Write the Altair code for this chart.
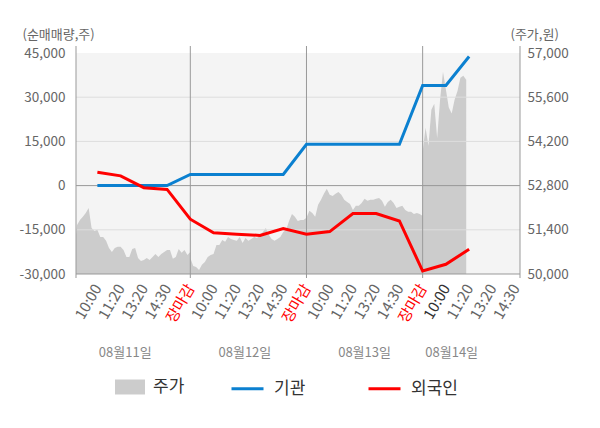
import json
import pandas as pd
import altair as alt

FONT = "Noto Sans CJK KR"

# ---------------- data ----------------
x_labels = ["10:00", "11:20", "13:20", "14:30", "장마감",
            "10:00", "11:20", "13:20", "14:30", "장마감",
            "10:00", "11:20", "13:20", "14:30", "장마감",
            "10:00", "11:20", "13:20", "14:30"]
tick_pos = list(range(1, len(x_labels) + 1))
day_bounds = [5, 10, 15]
dates = ["08월11일", "08월12일", "08월13일", "08월14일"]
date_pos = [2.2, 7.35, 12.5, 16.25]

series_names = ["주가", "기관", "외국인"]

flow_x = list(range(1, 18))
gigwan = [0, 0, 0, 0, 3800, 3800, 3800, 3800, 3800, 14000,
          14000, 14000, 14000, 14000, 34000, 34000, 43800]
foreign = [4500, 3300, -700, -1300, -11400, -16000, -16500, -16900, -14600, -16500,
           -15600, -9500, -9500, -12000, -29000, -26700, -21600]

price_day1 = [50700, 51550, 51710, 51810, 51930, 52090, 51460, 51360, 51400, 51170,
              51170, 51050, 50820, 50700, 50820, 50860, 50860, 50760, 50540, 50540,
              50790, 50820, 50510, 50410, 50440, 50510, 50440, 50540, 50630, 50540,
              50630, 50700, 50760, 50760, 50480, 50540, 50790, 50670, 50760, 50600,
              50700]
price_day2 = [50510, 50250, 50220, 50130, 50290, 50380, 50540, 50600, 50630, 50920,
              50920, 51080, 51020, 51170, 51110, 51080, 51050, 51170, 50980, 51140,
              51050, 51110, 51170, 51140, 51240, 51330, 51460, 51240, 51110, 51050,
              51110, 51170, 51330, 51400, 51680, 51900, 51810, 51680, 51710, 51710,
              51780]
price_day3 = [51780, 52000, 51930, 51810, 52190, 52350, 52540, 52700, 52510, 52470,
              52540, 52600, 52510, 52350, 52280, 52220, 52030, 52160, 52160, 52250,
              52380, 52320, 52350, 52350, 52380, 52410, 52320, 52130, 52280, 52350,
              52250, 52090, 52130, 52160, 52030, 51970, 51970, 51900, 51930, 51900,
              51840]
price_day4 = [53870, 54630, 54060, 55200, 55390, 54310, 55520, 56410, 55840, 55270,
              55080, 55520, 55800, 56220, 56280, 56150]
price_days = [price_day1, price_day2, price_day3, price_day4]
samples_per_slot = 8

left_ticks = [-30000, -15000, 0, 15000, 30000, 45000]
right_ticks = [50000, 51400, 52800, 54200, 55600, 57000]

# ---------------- tables ----------------
price_rows = []
for d, arr in enumerate(price_days):
    for k, p in enumerate(arr):
        price_rows.append({"x": d * 5 + k / samples_per_slot, "price": p,
                           "day": d, "series": series_names[0]})
price_df = pd.DataFrame(price_rows)

flow_rows = []
for name, arr in [(series_names[1], gigwan), (series_names[2], foreign)]:
    for xi, v in zip(flow_x, arr):
        flow_rows.append({"x": xi, "v": v, "series": name})
flow_df = pd.DataFrame(flow_rows)

W, H = 444, 221
xdom = [0.08, 19.19]
xscale = alt.Scale(domain=xdom, nice=False, zero=False)
lscale = alt.Scale(domain=[min(left_ticks), max(left_ticks)], nice=False, zero=False)
rscale = alt.Scale(domain=[min(right_ticks), max(right_ticks)], nice=False, zero=False)

label_expr = "%s[datum.value - 1]" % json.dumps(x_labels, ensure_ascii=False)

xaxis = alt.Axis(
    values=tick_pos, labelExpr=label_expr, labelAngle=-60, labelAlign="right",
    labelBaseline="middle", labelPadding=11, labelFontSize=15, labelFont=FONT,
    labelColor={"condition": [{"test": "datum.value % 5 === 0", "value": "#ff0000"},
                              {"test": "datum.value === 16", "value": "#333333"}],
                "value": "#666666"},
    labelOverlap=False, labelBound=False, labelFlush=False,
    domain=False, ticks=False, grid=False, title=None)

laxis = alt.Axis(
    orient="left", values=left_ticks, format=",d",
    labelExpr="replace(datum.label, '\u2212', '-')",
    domain=False, ticks=False, grid=False,
    labelPadding=11, labelFontSize=13.5, labelColor="#666666", labelFont=FONT,
    title="(순매매량,주)", titleAngle=0, titleX=-54, titleY=-19, titleAlign="left",
    titleBaseline="middle", titleFontSize=13, titleFontWeight="normal",
    titleColor="#666666", titleFont=FONT)

raxis = alt.Axis(
    orient="right", values=right_ticks, format=",d",
    domain=False, ticks=False, grid=False,
    labelPadding=7, labelFontSize=13.5, labelColor="#666666", labelFont=FONT,
    title="(주가,원)", titleAngle=0, titleX=-10, titleY=-19, titleAlign="left",
    titleBaseline="middle", titleFontSize=13, titleFontWeight="normal",
    titleColor="#666666", titleFont=FONT)

# ---------------- layers ----------------
area = alt.Chart(price_df).mark_area(clip=True, opacity=1).encode(
    x=alt.X("x:Q", scale=xscale, axis=xaxis),
    y=alt.Y("price:Q", scale=rscale, axis=raxis),
    y2=alt.datum(min(right_ticks)),
    detail="day:N",
    fill=alt.Fill("series:N",
                  scale=alt.Scale(domain=[series_names[0]], range=["#cccccc"]),
                  legend=alt.Legend(title=None, orient="none", legendX=39, legendY=319,
                                    symbolType="M-1,-0.5H1V0.5H-1Z", symbolSize=900,
                                    symbolStrokeWidth=0, labelFont=FONT, labelFontSize=17,
                                    labelColor="#333333", labelOffset=8, padding=0)),
)

grid = alt.Chart(pd.DataFrame({"v": left_ticks})).transform_filter(
    alt.datum.v < max(left_ticks)
).mark_rule(strokeWidth=1).encode(
    y=alt.Y("v:Q", scale=lscale, axis=laxis),
    color=alt.condition("datum.v === 0 || datum.v === %d" % min(left_ticks),
                        alt.value("#999999"), alt.value("#dddddd")),
)

vrules = alt.Chart(pd.DataFrame({"b": [xdom[0]] + day_bounds + [xdom[1]]})).mark_rule(
    color="#999999", strokeWidth=1
).encode(
    x=alt.X("b:Q", scale=xscale, axis=xaxis),
    y=alt.value(-7),
    y2=alt.value(H + 4),
)

lines = alt.Chart(flow_df).mark_line(strokeWidth=3, clip=True).encode(
    x=alt.X("x:Q", scale=xscale, axis=xaxis),
    y=alt.Y("v:Q", scale=lscale, axis=laxis),
    stroke=alt.Stroke("series:N",
                      scale=alt.Scale(domain=series_names[1:], range=["#0b80d0", "#ff0000"]),
                      legend=alt.Legend(title=None, orient="none", direction="horizontal",
                                        legendX=154, legendY=318, symbolType="stroke",
                                        symbolSize=1024, symbolStrokeWidth=3,
                                        columnPadding=56, labelOffset=9, labelFont=FONT,
                                        labelFontSize=17, labelColor="#333333", padding=0)),
)

date_text = alt.Chart(pd.DataFrame({"pos": date_pos, "date": dates})).mark_text(
    font=FONT, fontSize=13, color="#888888", align="center", baseline="middle"
).encode(
    x=alt.X("pos:Q", scale=xscale, axis=xaxis),
    y=alt.value(H + 79),
    text="date:N",
)

left_group = alt.layer(grid, vrules, lines, date_text)

chart = alt.layer(area, left_group).resolve_scale(y="independent").properties(
    width=W, height=H,
    autosize=alt.AutoSizeParams(type="none"),
    padding={"left": 68, "top": 45, "right": 72, "bottom": 146},
).configure(font=FONT).configure_view(fill="#f4f4f4", stroke=None)

chart.save("out.html", embed_options={"renderer": "svg", "actions": False})
